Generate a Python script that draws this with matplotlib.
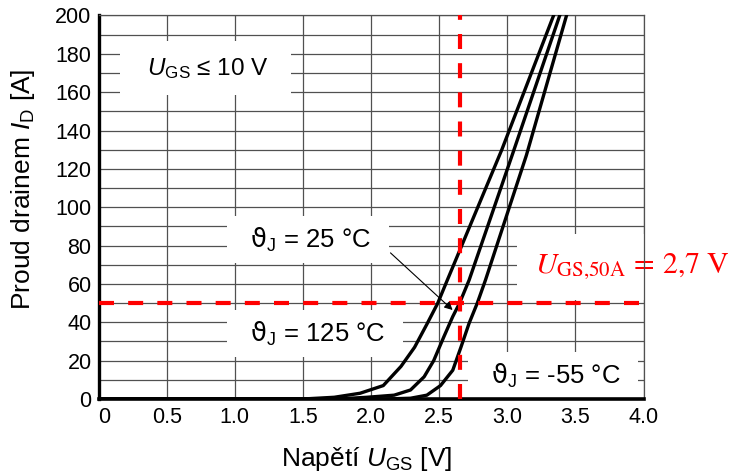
import matplotlib
matplotlib.use('Agg')
import matplotlib.pyplot as plt

plt.rcParams['font.family'] = ['Liberation Sans', 'DejaVu Sans']
plt.rcParams['mathtext.fontset'] = 'custom'
plt.rcParams['mathtext.rm'] = 'Liberation Sans'
plt.rcParams['mathtext.it'] = 'Liberation Sans:italic'
plt.rcParams['mathtext.sf'] = 'DejaVu Sans'

# transfer characteristic I_D(U_GS)
ugs_125 = [0, 1.5, 1.73, 1.92, 2.09, 2.22, 2.32, 2.41, 2.49, 2.56, 2.96, 3.34]
id_125 = [0, 0, 0.9, 3, 7, 17, 27, 39, 50, 62, 130, 200]

ugs_25 = [0, 1.75, 1.97, 2.17, 2.29, 2.39, 2.46, 2.535, 2.6, 2.65, 2.72, 3.04, 3.385]
id_25 = [0, 0, 0.9, 2, 4.7, 11.6, 20, 32.5, 43, 50, 62, 128, 200]

ugs_m55 = [0, 2.1, 2.29, 2.41, 2.51, 2.6, 2.66, 2.72, 2.78, 2.84, 3.14, 3.435]
id_m55 = [0, 0, 0.4, 2, 7, 15, 27, 39.5, 50, 62, 127, 200]

# operating point marked in red
ugs_50a = 2.65
id_ref = 50

x_ticks = [0, 0.5, 1.0, 1.5, 2.0, 2.5, 3.0, 3.5, 4.0]
x_labels = ['0', '0.5', '1.0', '1.5', '2.0', '2.5', '3.0', '3.5', '4.0']
y_ticks = list(range(0, 201, 20))
y_grid = list(range(0, 201, 10))

fig = plt.figure(figsize=(7.32, 4.75), dpi=100)
ax = fig.add_axes([0.1346, 0.16, 0.7445, 0.8074])

grid_col = '#505050'
ax.set_xlim(0, 4.0)
ax.set_ylim(0, 200)
ax.set_xticks(x_ticks, x_labels)
ax.set_yticks(y_ticks)
ax.set_yticks(y_grid, minor=True)
ax.set_axisbelow(True)
ax.grid(axis='x', which='major', color=grid_col, lw=0.9)
ax.grid(axis='y', which='both', color=grid_col, lw=0.9)
ax.tick_params(which='both', length=0, labelsize=15.5)
ax.tick_params(axis='x', pad=6)
ax.tick_params(axis='y', pad=5)
ax.get_xticklabels()[0].set_ha('left')

ax.spines['left'].set_linewidth(2.4)
ax.spines['bottom'].set_linewidth(2.6)
for s in ['top', 'right']:
    ax.spines[s].set_color(grid_col)
    ax.spines[s].set_linewidth(0.9)

# curves
for u, i in [(ugs_125, id_125), (ugs_25, id_25), (ugs_m55, id_m55)]:
    ax.plot(u, i, color='black', lw=2.4, zorder=3)

# red guide lines
ax.axhline(id_ref, color='red', lw=3, dashes=(3.6, 3.4), zorder=4)
ax.axvline(ugs_50a, color='red', lw=3, dashes=(3.6, 3.4), zorder=4)

# labels in white boxes
ax.text(0.783, 172.4, r'  $U_{\mathrm{GS}}$ ≤ 10 V  ', fontsize=17.5,
        ha='center', va='center', zorder=1.5,
        bbox=dict(boxstyle='square,pad=0.6', fc='white', ec='none'))

theta_box = dict(boxstyle='square,pad=0.35', fc='white', ec='none')
ax.text(1.537, 83.2, r'  $\mathsf{ϑ}_{\mathrm{J}}$ = 25 °C  ', fontsize=18.5,
        ha='center', va='center', zorder=1.5, bbox=theta_box)
ax.text(1.588, 34.2, r'  $\mathsf{ϑ}_{\mathrm{J}}$ = 125 °C  ', fontsize=18.5,
        ha='center', va='center', zorder=1.5, bbox=theta_box)
ax.text(3.338, 12.3, r'  $\mathsf{ϑ}_{\mathrm{J}}$ = -55 °C  ', fontsize=18.5,
        ha='center', va='center', zorder=1.5, bbox=theta_box)

ax.annotate('', xy=(2.599, 46.4), xytext=(2.143, 76.2),
            arrowprops=dict(arrowstyle='-|>', color='black', lw=0.8,
                            mutation_scale=12, shrinkA=0, shrinkB=0),
            zorder=5)

ax.text(3.20, 65.6, r'$U_{\mathrm{GS{,}50A}}\,=\,2{,}7\ \mathrm{V}$', color='red',
        fontsize=21.5, math_fontfamily='stix', ha='left', va='baseline',
        zorder=1.5, clip_on=False,
        bbox=dict(boxstyle='square,pad=0.6', fc='white', ec='none'))

ax.set_xlabel(r'Napětí $U_{\mathrm{GS}}$ [V]', fontsize=19)
ax.xaxis.set_label_coords(0.4927, -0.12)
ax.set_ylabel(r'Proud drainem $I_{\mathrm{D}}$ [A]', fontsize=19)
ax.yaxis.set_label_coords(-0.112, 0.548)

fig.savefig('out.png', dpi=100)
